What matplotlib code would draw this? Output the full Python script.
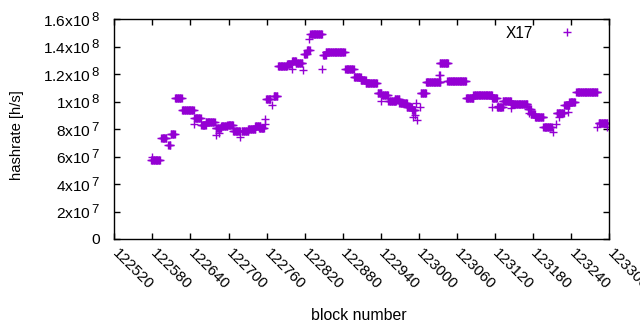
import numpy as np
import matplotlib
matplotlib.use('Agg')
import matplotlib.pyplot as plt
import matplotlib._mathtext as _mt

plt.rcParams['font.family'] = ['Liberation Sans', 'DejaVu Sans']
plt.rcParams['mathtext.fontset'] = 'custom'
plt.rcParams['mathtext.rm'] = 'Liberation Sans'
plt.rcParams['mathtext.it'] = 'Liberation Sans:italic'
plt.rcParams['mathtext.bf'] = 'Liberation Sans:bold'
try:
    _mt.SHRINK_FACTOR = 0.85
except Exception:
    pass

# runs of consecutive blocks sharing one hashrate value (MH/s)
run_start = [122578, 122594, 122605, 122609, 122616, 122627, 122646, 122657, 122664, 122680,
             122688, 122698, 122707, 122721, 122731, 122742, 122748, 122759, 122771, 122778,
             122792, 122800, 122806, 122819, 122824, 122829, 122849, 122853, 122884, 122898,
             122908, 122916, 122935, 122942, 122952, 122962, 122969, 122981, 122989, 123003,
             123011, 123033, 123045, 123074, 123086, 123115, 123123, 123132, 123145, 123172,
             123176, 123183, 123196, 123217, 123229, 123237, 123248, 123283]
run_end = [122592, 122602, 122608, 122615, 122626, 122645, 122656, 122664, 122678, 122688,
           122698, 122707, 122718, 122731, 122742, 122750, 122756, 122766, 122777, 122792,
           122798, 122806, 122816, 122823, 122828, 122847, 122853, 122883, 122897, 122908,
           122916, 122934, 122941, 122951, 122964, 122969, 122981, 122989, 122994, 123011,
           123033, 123046, 123074, 123086, 123115, 123123, 123132, 123145, 123171, 123176,
           123183, 123196, 123209, 123228, 123237, 123246, 123281, 123297]
run_mhs = [57.8, 73.9, 68.1, 76.5, 102.9, 94.3, 87.8, 83.1, 84.9, 81.1,
           82.0, 82.7, 78.3, 78.5, 80.1, 82.2, 80.5, 102.0, 104.2, 125.8,
           127.5, 129.7, 128.4, 134.5, 137.5, 149.0, 134.2, 136.5, 124.0, 117.8,
           115.6, 113.9, 106.0, 104.7, 100.4, 101.6, 98.7, 96.2, 93.8, 106.5,
           114.2, 128.3, 114.8, 103.0, 105.1, 103.0, 96.3, 100.7, 98.2, 94.5,
           90.9, 88.5, 81.7, 91.5, 97.5, 99.6, 107.2, 84.6]

# isolated blocks (MH/s)
single_block = [122579, 122646, 122680, 122685, 122718, 122757, 122758, 122769, 122800, 122817,
                122827, 122848, 122941, 122991, 122994, 122996, 122997, 123002, 123031, 123033,
                123033, 123115, 123124, 123145, 123173, 123212, 123216, 123221, 123235, 123280,
                123297]
single_mhs = [59.5, 84.1, 76.1, 77.3, 74.4, 87.5, 84.0, 97.5, 123.6, 123.4,
              146.0, 123.6, 100.5, 89.0, 90.2, 98.7, 86.5, 96.2, 119.3, 119.3,
              114.0, 95.8, 96.7, 95.3, 92.0, 78.0, 84.1, 89.0, 92.6, 81.5,
              81.5]

xticks = list(range(122520, 123301, 60))
yticks = [0, 2e7, 4e7, 6e7, 8e7, 1e8, 1.2e8, 1.4e8, 1.6e8]
ytick_labels = ['0', r'2x10$^{\,7}$', r'4x10$^{\,7}$', r'6x10$^{\,7}$', r'8x10$^{\,7}$',
                r'1x10$^{\,8}$', r'1.2x10$^{\,8}$', r'1.4x10$^{\,8}$', r'1.6x10$^{\,8}$']

xs, ys = [], []
for s, e, v in zip(run_start, run_end, run_mhs):
    for b in range(s, e + 1):
        xs.append(b)
        ys.append(v * 1e6)
for b, v in zip(single_block, single_mhs):
    xs.append(b)
    ys.append(v * 1e6)

W = 495.0
H = 219.7
fig = plt.figure(figsize=(6.4, 3.3), dpi=100)
ax = fig.add_axes([114.3 / 640, 1 - 239 / 330, W / 640, H / 330])

color = '#9400D3'
ax.plot(xs, ys, linestyle='none', marker='+', markersize=5.2, markeredgewidth=1.0,
        color=color, label='X17')

ax.set_xlim(122520, 123300)
ax.set_ylim(0, 1.6e8)
ax.tick_params(direction='in', length=4, width=1, top=True, right=True, colors='black')
ax.set_xticks(xticks)
ax.set_xticklabels([str(t) for t in xticks], rotation=-45, ha='left', va='center',
                   rotation_mode='anchor', fontsize=11)
ax.set_yticks(yticks)
ax.set_yticklabels(ytick_labels, fontsize=11.5)
ax.tick_params(axis='x', pad=9)
ax.tick_params(axis='y', pad=10)
for sp in ax.spines.values():
    sp.set_linewidth(1)

ax.set_xlabel('block number', fontsize=11.4)
ax.set_ylabel('hashrate [h/s]', fontsize=11.2)
ax.xaxis.set_label_coords((359 - 114.3) / W, -(315 - 239) / H)
ax.yaxis.set_label_coords(-(114.3 - 17) / W, (239 - 135) / H)
ax.xaxis.label.set_va('center')
ax.yaxis.label.set_va('center')

leg = ax.legend(loc='upper right', frameon=False, markerfirst=False, fontsize=11.2,
                handlelength=2.0, handletextpad=1.22, borderaxespad=0.0, borderpad=0.0,
                bbox_to_anchor=((582.9 - 114.3) / W, 1 - 6.5 / H))

# fit text sizes to the reference's measured extents (pixels)
r = fig.canvas.get_renderer()


def clamp(v):
    return max(7.0, min(16.0, v))


for _ in range(3):
    fig.canvas.draw()
    lab = ax.get_yticklabels()[-1]
    bb = lab.get_window_extent(r)
    if bb.width > 5:
        ax.tick_params(axis='y', labelsize=clamp(lab.get_fontsize() * 57.3 / bb.width))
    bb = ax.xaxis.label.get_window_extent(r)
    if bb.width > 5:
        ax.xaxis.label.set_fontsize(clamp(ax.xaxis.label.get_fontsize() * 95.0 / bb.width))
    bb = ax.yaxis.label.get_window_extent(r)
    if bb.height > 5:
        ax.yaxis.label.set_fontsize(clamp(ax.yaxis.label.get_fontsize() * 90.0 / bb.height))

# right edge of the y tick labels at x = 100 px
fig.canvas.draw()
lab = ax.get_yticklabels()[-1]
bb = lab.get_window_extent(r)
new_pad = 10 + (bb.x1 - 100.0) * 72.0 / fig.dpi
if 2 < new_pad < 30:
    ax.tick_params(axis='y', pad=new_pad)

fig.savefig('out.png', dpi=100)
